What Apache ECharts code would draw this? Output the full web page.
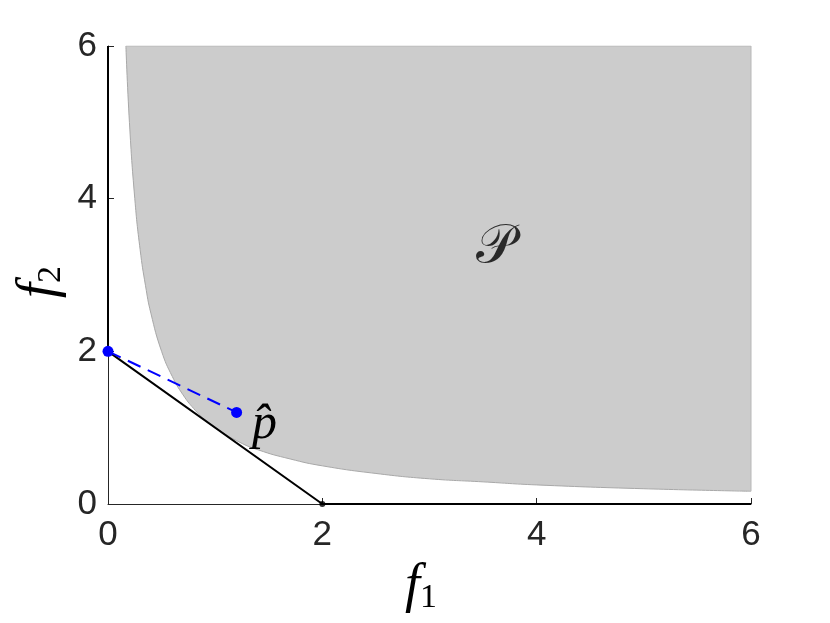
<!DOCTYPE html>
<html>
<head>
<meta charset="utf-8">
<script src="https://cdn.jsdelivr.net/npm/echarts@6/dist/echarts.min.js"></script>
<style>html,body{margin:0;padding:0;background:#fff}#c{width:830px;height:623px}</style>
</head>
<body>
<div id="c"></div>
<script>
// Axis ticks
const xTicks = [0, 2, 4, 6];
const yTicks = [0, 2, 4, 6];
// Lower boundary of the gray region P
const boundaryF1 = [0.167, 0.2, 0.25, 0.3, 0.35, 0.4, 0.5, 0.6, 0.7, 0.8, 0.9, 1.0, 1.2, 1.4, 1.7, 2.0, 2.5, 3.0, 3.5, 4.0, 5.0, 6.0];
const boundaryF2 = [6.0, 5.0, 4.0, 3.33, 2.86, 2.5, 2.0, 1.67, 1.43, 1.25, 1.11, 1.0, 0.83, 0.71, 0.59, 0.5, 0.4, 0.33, 0.29, 0.25, 0.2, 0.167];
// Black front line
const frontF1 = [0, 0, 2, 6];
const frontF2 = [6, 2, 0, 0];
// Blue dashed segment and points
const blueF1 = [0, 1.2];
const blueF2 = [2, 1.2];
// Black dot
const dotF1 = [2];
const dotF2 = [0];
// Text labels
const regionLabel = { f1: 3.62, f2: 3.35, text: '𝒫' };
const pointLabel = 'p̂';

const zip = (a, b) => a.map((v, i) => [v, b[i]]);
const boundary = zip(boundaryF1, boundaryF2);
const last = boundary[boundary.length - 1];

const chart = echarts.init(document.getElementById('c'));
const axisCommon = {
  type: 'value', min: xTicks[0], max: xTicks[xTicks.length - 1], interval: 2,
  axisLine: { show: true, onZero: false, lineStyle: { color: '#262626', width: 1 } },
  axisTick: { show: true, inside: true, length: 6, lineStyle: { color: '#262626' } },
  splitLine: { show: false },
  axisLabel: { fontSize: 35, color: '#262626', fontFamily: 'Liberation Sans, Arial, sans-serif' }
};
const serif = 'Liberation Serif, DejaVu Serif, serif';
const richLabel = {
  f: { fontSize: 54, fontStyle: 'italic', fontFamily: serif, fill: '#000', lineHeight: 56 },
  s: { fontSize: 34, fontFamily: serif, fill: '#000', verticalAlign: 'bottom', lineHeight: 24 }
};
chart.setOption({
  animation: false,
  grid: { left: 108, right: 79, top: 46, bottom: 119, containLabel: false },
  xAxis: Object.assign({}, axisCommon, { axisLabel: Object.assign({}, axisCommon.axisLabel, { margin: 14 }) }),
  yAxis: Object.assign({}, axisCommon, { min: yTicks[0], max: yTicks[yTicks.length - 1], axisLabel: Object.assign({}, axisCommon.axisLabel, { margin: 11 }) }),
  series: [
    {
      type: 'line', data: boundary, showSymbol: false, smooth: true,
      lineStyle: { color: '#a8a8a8', width: 1 },
      areaStyle: { color: '#cccccc', opacity: 1, origin: 'end' },
      z: 1
    },
    {
      type: 'line', data: [[boundaryF1[0], 6], [6, 6], last], showSymbol: false,
      lineStyle: { color: '#b8b8b8', width: 1 }, z: 1
    },
    {
      type: 'line', data: zip(frontF1, frontF2), showSymbol: false,
      lineStyle: { color: '#000', width: 2 }, z: 3
    },
    {
      type: 'scatter', data: zip(dotF1, dotF2), symbolSize: 6,
      itemStyle: { color: '#000' }, z: 4
    },
    {
      type: 'line', data: zip(blueF1, blueF2), symbol: 'circle', symbolSize: 11,
      lineStyle: { color: '#0000ff', width: 2, type: [14, 8] },
      itemStyle: { color: '#0000ff' }, z: 5,
      label: {
        show: true, position: 'right', distance: 10,
        formatter: p => p.dataIndex === 1 ? pointLabel : '',
        fontSize: 50, fontStyle: 'italic', fontFamily: serif, color: '#000',
        offset: [0, 12]
      }
    },
    {
      type: 'scatter', data: [[regionLabel.f1, regionLabel.f2]], symbolSize: 0, silent: true,
      label: {
        show: true, position: 'inside', formatter: regionLabel.text,
        fontSize: 54, color: '#000', fontFamily: 'DejaVu Serif, Noto Sans, serif'
      }, z: 6
    }
  ],
  graphic: [
    {
      type: 'text', left: 405, top: 560,
      style: { text: '{f|f}{s|1}', rich: richLabel }
    },
    {
      type: 'text', rotation: Math.PI / 2, x: 12, y: 298,
      style: { text: '{f|f}{s|2}', rich: richLabel }
    }
  ]
});
</script>
</body>
</html>
